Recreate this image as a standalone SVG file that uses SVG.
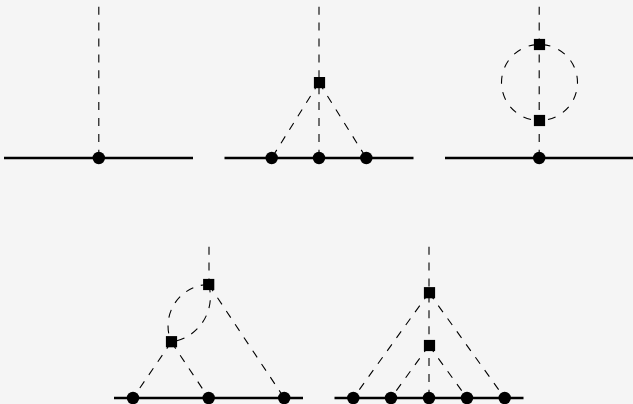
<svg xmlns="http://www.w3.org/2000/svg" width="633" height="404" viewBox="0 0 633 404">
<style>
.d{fill:none;stroke:#000;stroke-width:1.1;stroke-dasharray:8 7.9}
.c{stroke-dasharray:8 8.6;stroke-dashoffset:-3}
.l{fill:none;stroke:#000;stroke-width:2.4}
.s{fill:#000}
</style>
<defs>
<rect id="sq" x="-5.6" y="-5.6" width="11.2" height="11.2" class="s"/>
<circle id="dot" r="6.2" class="s"/>
</defs>
<rect width="633" height="404" fill="#f5f5f5"/>
<g id="connectors">
<path class="l" d="M4 158H193M224.500 158H413.500M445 158H633M114 398H303M334.500 398H523.500"/>
<path class="d" d="M98.800 6.700V158"/>
<path class="d" d="M319 6.700V158M319 82.500L271.700 158M319 82.500L366.300 158"/>
<path class="d" d="M539.200 6.700V158"/>
<path class="d c" d="M539.500 44.500A38 38 0 0 1 539.500 120.500M539.500 44.500A38 38 0 0 0 539.500 120.500"/>
<path class="d" d="M209 246.700V284.500M208.700 284.500L284.200 398M208.700 284.500A45.700 45.700 0 0 1 171.300 342M208.700 284.500A41.400 41.400 0 0 0 171.300 342M171.300 342L133 398M171.300 342L208.700 398"/>
<path class="d" d="M429 246.700V398M429 292.700L353.300 398M429 292.700L504.700 398M429 345.500L391 398M429 345.500L467 398"/>
</g>
<g id="n1"><use href="#dot" x="98.800" y="158"/></g>
<g id="n2"><use href="#sq" x="319.500" y="82.600"/><use href="#dot" x="271.700" y="158"/><use href="#dot" x="319" y="158"/><use href="#dot" x="366.300" y="158"/></g>
<g id="n3"><use href="#sq" x="539.500" y="44.500"/><use href="#sq" x="539.500" y="120.500"/><use href="#dot" x="539.200" y="158"/></g>
<g id="n4"><use href="#sq" x="208.700" y="284.500"/><use href="#sq" x="171.500" y="341.700"/><use href="#dot" x="133" y="398"/><use href="#dot" x="208.700" y="398"/><use href="#dot" x="284.200" y="398"/></g>
<g id="n5"><use href="#sq" x="429.500" y="292.700"/><use href="#sq" x="429.500" y="345.500"/><use href="#dot" x="353.300" y="398"/><use href="#dot" x="391" y="398"/><use href="#dot" x="429" y="398"/><use href="#dot" x="467" y="398"/><use href="#dot" x="504.700" y="398"/></g>
</svg>
